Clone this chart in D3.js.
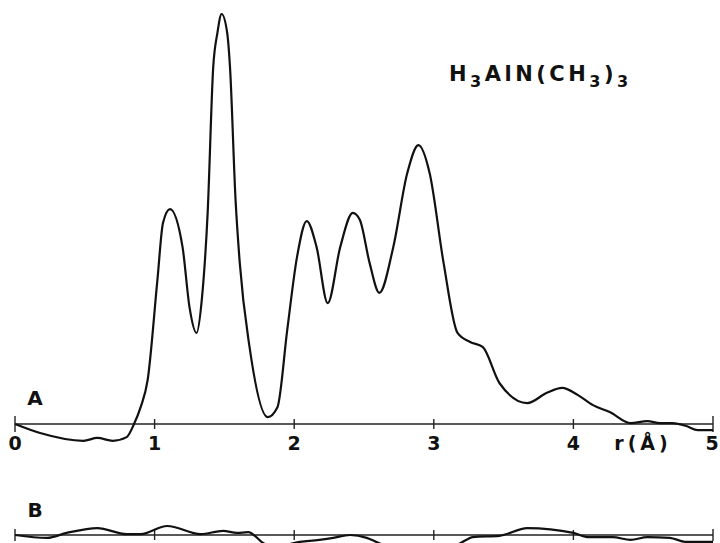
<!DOCTYPE html>
<html>
<head>
<meta charset="utf-8">
<script src="https://cdn.jsdelivr.net/npm/d3@7"></script>
<style>
  html, body { margin: 0; padding: 0; background: #fff; }
  svg { display: block; }
  text { font-family: "DejaVu Sans", "Liberation Sans", sans-serif; font-weight: bold; fill: #111; }
</style>
</head>
<body>
<svg id="chart"></svg>
<script>
const width = 720;
const height = 543;

// radial distribution curve A (r in Å, relative intensity, main peak = 100)
const rA = [0, 0.18, 0.49, 0.59, 0.70, 0.80, 0.85, 0.90, 0.95, 1.02, 1.06, 1.11, 1.20, 1.25, 1.30,
  1.34, 1.38, 1.42, 1.45, 1.48, 1.52, 1.54, 1.58, 1.61, 1.68, 1.81, 1.88, 1.95, 2.02, 2.09,
  2.16, 2.24, 2.33, 2.42, 2.47, 2.54, 2.61, 2.71, 2.81, 2.89, 2.97, 3.07, 3.17, 3.26, 3.35,
  3.47, 3.67, 3.81, 3.92, 4.03, 4.14, 4.26, 4.41, 4.53, 4.62, 4.71, 4.81, 4.89, 5.0];
const valA = [0, -2.2, -4.1, -3.4, -4.1, -3.2, -0.2, 4.1, 10.7, 35.1, 49.0, 52.4, 43.2, 28.5, 22.2,
  31.0, 51.5, 87.1, 95.4, 100, 95.4, 87.1, 54.6, 39.3, 18.8, 1.7, 4.1, 22.9, 40.7, 49.5,
  43.2, 29.5, 43.2, 51.5, 49.8, 39.3, 32.0, 43.2, 61.2, 68.0, 61.2, 39.3, 22.2, 20.0, 18.8,
  10.0, 5.1, 7.6, 8.8, 7.1, 4.6, 2.9, 0.2, 0.7, 0.2, 0.2, -0.5, -1.5, -1.5];

// difference curve B
const rB = [0, 0.23, 0.37, 0.59, 0.80, 0.90, 1.09, 1.33, 1.49, 1.59, 1.67, 1.78, 1.88, 1.99,
  2.18, 2.28, 2.40, 2.52, 2.61, 2.90, 3.19, 3.28, 3.47, 3.67, 4.0, 4.10, 4.28, 4.41, 4.53,
  4.69, 4.81, 5.0];
const valB = [0, -0.7, 0.5, 1.7, 0.2, 0.2, 2.2, 0.2, 1.0, 0.5, 0.7, -2.0, -3.2, -2.0,
  -1.2, -0.7, 0, -0.7, -2.0, -4.1, -2.0, -0.5, -0.2, 1.7, 0.5, -0.5, -0.5, -1.2, -0.5,
  -0.7, -1.7, -1.7];

const rTicks = [0, 1, 2, 3, 4, 5];
const tickLabels = ["0", "1", "2", "3", "4", "5"];

const svg = d3.select("#chart").attr("width", width).attr("height", height);

const x = d3.scaleLinear().domain([0, 5]).range([15, 713]);
const yA = d3.scaleLinear().domain([0, 100]).range([424, 14]);
const yB = d3.scaleLinear().domain([0, 100]).range([535, 125]);

function drawAxis(y, endTicks) {
    const g = svg.append("g");
    g.append("line")
        .attr("x1", x(0)).attr("x2", x(5))
        .attr("y1", y(0)).attr("y2", y(0))
        .attr("stroke", "#222").attr("stroke-width", 1.4);
    g.selectAll("line.tick")
        .data(rTicks)
        .enter()
        .append("line")
        .attr("class", "tick")
        .attr("x1", (d) => x(d)).attr("x2", (d) => x(d))
        .attr("y1", (d) => y(0) - (d === 0 || d === 5 ? endTicks : 5))
        .attr("y2", (d) => y(0) + (d === 0 || d === 5 ? endTicks : 5))
        .attr("stroke", "#222").attr("stroke-width", 1.4);
}

drawAxis(yA, 8);
drawAxis(yB, 6);

const lineA = d3.line()
    .x((d, i) => x(rA[i]))
    .y((d) => yA(d))
    .curve(d3.curveMonotoneX);

const lineB = d3.line()
    .x((d, i) => x(rB[i]))
    .y((d) => yB(d))
    .curve(d3.curveMonotoneX);

svg.append("path")
    .datum(valA)
    .attr("d", lineA)
    .attr("fill", "none")
    .attr("stroke", "#111")
    .attr("stroke-width", 2.2)
    .attr("stroke-linejoin", "round");

svg.append("path")
    .datum(valB)
    .attr("d", lineB)
    .attr("fill", "none")
    .attr("stroke", "#111")
    .attr("stroke-width", 2.2)
    .attr("stroke-linejoin", "round");

// tick labels
svg.selectAll("text.tl")
    .data(rTicks)
    .enter()
    .append("text")
    .attr("class", "tl")
    .attr("x", (d) => x(d) + (d === 5 ? -1 : 0))
    .attr("y", 450)
    .attr("text-anchor", "middle")
    .attr("font-size", 19)
    .text((d, i) => tickLabels[i]);

svg.append("text")
    .attr("x", 643).attr("y", 450)
    .attr("text-anchor", "middle")
    .attr("font-size", 19)
    .style("letter-spacing", "4px")
    .text("r(Å)");

svg.append("text").attr("x", 35).attr("y", 405)
    .attr("text-anchor", "middle").attr("font-size", 20).text("A");
svg.append("text").attr("x", 35).attr("y", 517)
    .attr("text-anchor", "middle").attr("font-size", 20).text("B");

// compound label
const title = svg.append("text")
    .attr("x", 449).attr("y", 81)
    .attr("font-size", 21)
    .style("letter-spacing", "3.5px");
title.append("tspan").text("H");
title.append("tspan").attr("dy", 6).attr("font-size", 16).text("3");
title.append("tspan").attr("dy", -6).text("AlN(CH");
title.append("tspan").attr("dy", 6).attr("font-size", 16).text("3");
title.append("tspan").attr("dy", -6).text(")");
title.append("tspan").attr("dy", 6).attr("font-size", 16).text("3");
</script>
</body>
</html>
